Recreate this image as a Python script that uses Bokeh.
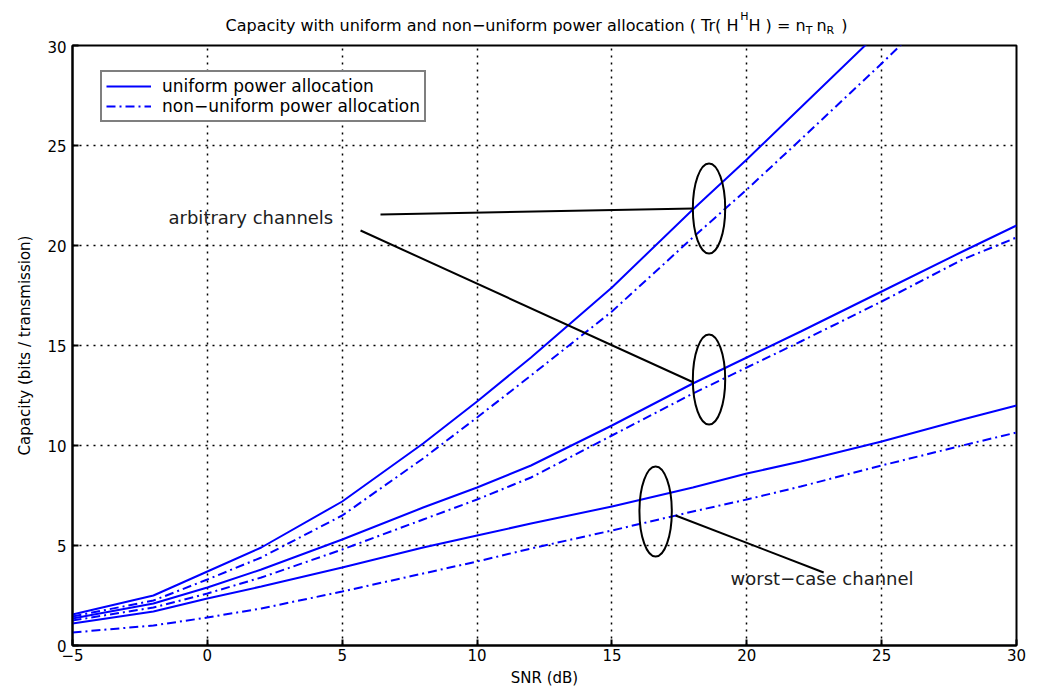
from bokeh.plotting import figure
from bokeh.models import Range1d, Legend, LegendItem, FixedTicker
from bokeh.layouts import column
from bokeh.embed import file_html
from bokeh.resources import INLINE
from bokeh.core.properties import value

# ---------------- data ----------------
snr_db = [-5, -2, 0, 2, 5, 8, 10, 12, 15, 18, 20, 22, 25, 28, 30]

arb_high_uniform = [1.55, 2.5, 3.7, 4.9, 7.2, 10.1, 12.2, 14.4, 17.9, 21.8, 24.3, 26.9, 30.8, 34.7, 37.3]
arb_high_nonuniform = [1.45, 2.25, 3.3, 4.4, 6.5, 9.35, 11.4, 13.5, 16.7, 20.4, 22.8, 25.3, 29.1, 33.0, 35.6]

arb_mid_uniform = [1.35, 2.1, 2.9, 3.8, 5.3, 6.9, 7.9, 9.0, 11.0, 13.1, 14.4, 15.7, 17.7, 19.7, 21.0]
arb_mid_nonuniform = [1.25, 1.9, 2.6, 3.4, 4.8, 6.3, 7.3, 8.4, 10.5, 12.6, 13.9, 15.2, 17.2, 19.3, 20.4]

worst_uniform = [1.1, 1.7, 2.35, 2.95, 3.9, 4.9, 5.5, 6.1, 6.95, 7.9, 8.6, 9.2, 10.2, 11.3, 12.0]
worst_nonuniform = [0.65, 1.0, 1.4, 1.85, 2.7, 3.6, 4.2, 4.85, 5.75, 6.7, 7.3, 7.95, 9.0, 10.0, 10.65]

x_ticks = [-5, 0, 5, 10, 15, 20, 25, 30]
y_ticks = [0, 5, 10, 15, 20, 25, 30]

legend_labels = ["uniform power allocation", "non\u2212uniform power allocation"]

# annotation marks (ellipses and pointer lines)
ellipse_x = [18.6, 18.6, 16.62]
ellipse_y = [21.85, 13.3, 6.7]
ellipse_w = 1.2
ellipse_h = 4.5

pointer_x0 = [6.42, 5.68, 17.36]
pointer_y0 = [21.55, 20.75, 6.5]
pointer_x1 = [18.03, 18.03, 22.85]
pointer_y1 = [21.85, 13.15, 3.65]

note_texts = ["arbitrary channels", "worst\u2212case channel"]
note_x = [-1.44, 19.4]
note_y = [21.4, 3.35]

# title pieces: text, anchor x (px), alignment, baseline (px from bottom of strip), size
title_texts = ["Capacity with uniform and non\u2212uniform power allocation ( Tr( H",
               "H", "H ) = n", "T", "n", "R", ")"]
title_x = [733, 735, 744, 807, 819, 830, 846]
title_align = ["right", "left", "left", "left", "left", "left", "left"]
title_base = [15, 24, 15, 10, 15, 10, 15]
title_size = ["16px", "11px", "16px", "11px", "16px", "11px", "16px"]

FONT = "DejaVu Sans"
BLUE = "#0000FF"
DASHDOT = "9 4 2 4"
W = 1039
TITLE_H = 40

# ---------------- title strip ----------------
t = figure(width=W, height=TITLE_H, x_range=Range1d(0, W), y_range=Range1d(0, TITLE_H),
           output_backend="svg", toolbar_location=None, title=None,
           x_axis_type=None, y_axis_type=None, min_border=0)
t.outline_line_color = None
t.background_fill_color = "white"
t.border_fill_color = "white"
for i in range(len(title_texts)):
    t.text(x=[title_x[i]], y=[title_base[i]], text=[title_texts[i]],
           text_font=value(FONT), text_font_size=title_size[i],
           text_color="black", text_align=title_align[i], text_baseline="alphabetic")

# ---------------- main plot ----------------
p = figure(width=W, height=689 - TITLE_H,
           x_range=Range1d(-5, 30), y_range=Range1d(0, 30),
           output_backend="svg", toolbar_location=None, title=None,
           min_border_left=72, min_border_right=23,
           min_border_top=5, min_border_bottom=44)

p.background_fill_color = "white"
p.border_fill_color = "white"
p.outline_line_color = "black"
p.outline_line_width = 2

for ax in (p.xaxis[0], p.yaxis[0]):
    ax.major_tick_in = 6
    ax.major_tick_out = 0
    ax.minor_tick_line_color = None
    ax.axis_line_width = 2
    ax.axis_line_color = "black"
    ax.major_tick_line_color = "black"
    ax.major_tick_line_width = 2
    ax.major_label_text_font = FONT
    ax.major_label_text_font_size = "15px"
    ax.major_label_text_color = "black"
    ax.axis_label_text_font = FONT
    ax.axis_label_text_font_size = "15px"
    ax.axis_label_text_font_style = "normal"
    ax.axis_label_text_color = "black"

p.xaxis.ticker = FixedTicker(ticks=x_ticks)
p.yaxis.ticker = FixedTicker(ticks=y_ticks)
p.xaxis.axis_label = "SNR (dB)"
p.yaxis.axis_label = "Capacity (bits / transmission)"
p.xaxis.major_label_standoff = 3
p.xaxis.axis_label_standoff = 5
p.yaxis.major_label_standoff = 6
p.yaxis.axis_label_standoff = 10

for g in (p.xgrid[0], p.ygrid[0]):
    g.grid_line_color = "black"
    g.grid_line_dash = "2 5"
    g.grid_line_width = 1.5
p.xgrid.ticker = FixedTicker(ticks=x_ticks)
p.ygrid.ticker = FixedTicker(ticks=y_ticks)

# curves
r_u = p.line(snr_db, arb_high_uniform, line_color=BLUE, line_width=2)
r_n = p.line(snr_db, arb_high_nonuniform, line_color=BLUE, line_width=2, line_dash=DASHDOT)
p.line(snr_db, arb_mid_uniform, line_color=BLUE, line_width=2)
p.line(snr_db, arb_mid_nonuniform, line_color=BLUE, line_width=2, line_dash=DASHDOT)
p.line(snr_db, worst_uniform, line_color=BLUE, line_width=2)
p.line(snr_db, worst_nonuniform, line_color=BLUE, line_width=2, line_dash=DASHDOT)

# annotations
p.ellipse(x=ellipse_x, y=ellipse_y, width=ellipse_w, height=ellipse_h,
          fill_color=None, line_color="black", line_width=2)
p.segment(x0=pointer_x0, y0=pointer_y0, x1=pointer_x1, y1=pointer_y1,
          line_color="black", line_width=2)
p.text(x=note_x, y=note_y, text=note_texts, text_font=value(FONT),
       text_font_size="18px", text_color="#202020",
       text_align="left", text_baseline="middle")

# legend
legend = Legend(items=[LegendItem(label=legend_labels[0], renderers=[r_u]),
                       LegendItem(label=legend_labels[1], renderers=[r_n])],
                location=(28, 523), orientation="vertical")
legend.label_text_font = FONT
legend.label_text_font_size = "17px"
legend.label_text_color = "black"
legend.glyph_width = 45
legend.glyph_height = 20
legend.label_height = 20
legend.label_standoff = 11
legend.spacing = 0
legend.padding = 4
legend.margin = 0
legend.border_line_color = "black"
legend.border_line_width = 2
legend.background_fill_color = "white"
legend.background_fill_alpha = 1.0
p.add_layout(legend)

layout = column(t, p, spacing=0)
open("out.html", "w").write(file_html(layout, INLINE))
